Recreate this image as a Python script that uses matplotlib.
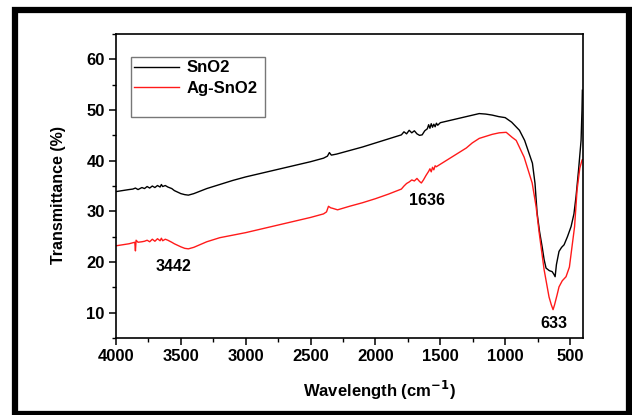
import matplotlib
matplotlib.use('Agg')
import matplotlib.pyplot as plt
from matplotlib.patches import Rectangle
from matplotlib.ticker import MultipleLocator

# Data (bilangan gelombang, transmitansi %)
wn_sno2 = [4000, 3950, 3900, 3870, 3850, 3830, 3800, 3780, 3760, 3740, 3720, 3700,
           3680, 3660, 3650, 3640, 3620, 3600, 3570, 3550, 3500, 3470, 3442, 3400,
           3300, 3200, 3100, 3000, 2900, 2800, 2700, 2600, 2500, 2400, 2370, 2355,
           2340, 2300, 2200, 2100, 2000, 1900, 1800, 1780, 1760, 1740, 1720, 1700,
           1680, 1660, 1640, 1620, 1600, 1590, 1580, 1570, 1560, 1550, 1540, 1530,
           1520, 1500, 1400, 1300, 1200, 1150, 1100, 1050, 1000, 950, 890, 850,
           790, 770, 754, 735, 715, 700, 685, 660, 638, 625, 615, 605, 585, 565,
           546, 520, 492, 470, 454, 435, 415, 408, 405]
t_sno2 = [33.9, 34.1, 34.3, 34.4, 34.6, 34.3, 34.7, 34.5, 34.9, 34.6, 35.0, 34.7,
          35.1, 34.8, 35.3, 34.9, 35.1, 34.8, 34.5, 34.1, 33.5, 33.3, 33.2, 33.5,
          34.5, 35.3, 36.1, 36.8, 37.4, 38.0, 38.6, 39.2, 39.8, 40.5, 40.9, 41.6,
          41.1, 41.3, 42.0, 42.7, 43.5, 44.3, 45.1, 45.7, 45.3, 46.0, 45.5, 45.9,
          45.3, 45.0, 45.1, 45.9, 46.3, 47.1, 46.4, 47.3, 46.6, 47.2, 46.7, 47.4,
          47.0, 47.5, 48.1, 48.7, 49.3, 49.2, 49.0, 48.7, 48.5, 47.6, 46.0, 44.0,
          39.5, 35.5, 29.7, 26.0, 23.0, 20.5, 18.8, 18.3, 18.1, 17.6, 17.1, 19.5,
          22.1, 22.9, 23.4, 25.0, 27.0, 29.5, 32.9, 38.0, 44.0, 50.0, 53.9]

wn_ag = [4000, 3950, 3900, 3870, 3855, 3850, 3845, 3830, 3800, 3780, 3760, 3740,
         3720, 3700, 3680, 3660, 3650, 3640, 3620, 3600, 3570, 3550, 3500, 3470,
         3442, 3400, 3300, 3200, 3100, 3000, 2900, 2800, 2700, 2600, 2500, 2400,
         2377, 2362, 2345, 2330, 2292, 2200, 2100, 2000, 1900, 1800, 1780, 1760,
         1740, 1720, 1700, 1680, 1660, 1646, 1630, 1610, 1590, 1580, 1570, 1560,
         1550, 1540, 1531, 1500, 1400, 1300, 1254, 1200, 1100, 1046, 992, 946,
         915, 854, 792, 762, 738, 700, 662, 645, 631, 620, 600, 585, 560, 531,
         505, 485, 465, 446, 425, 408, 405]
t_ag = [23.2, 23.4, 23.6, 23.8, 23.9, 22.2, 24.3, 23.9, 24.0, 24.1, 24.3, 24.0,
        24.5, 24.1, 24.6, 24.2, 24.7, 24.2, 24.5, 24.3, 23.9, 23.6, 23.0, 22.7,
        22.6, 22.9, 24.0, 24.8, 25.3, 25.8, 26.4, 27.0, 27.6, 28.2, 28.8, 29.5,
        29.9, 31.0, 30.7, 30.6, 30.3, 31.0, 31.7, 32.5, 33.4, 34.4, 35.0, 35.5,
        35.8, 36.2, 36.0, 36.5, 35.9, 35.6, 36.2, 37.1, 37.9, 38.4, 37.8, 38.7,
        38.2, 39.0, 38.8, 39.3, 40.9, 42.5, 43.5, 44.4, 45.2, 45.5, 45.6, 44.6,
        44.0, 40.7, 35.6, 31.0, 25.8, 18.5, 13.1, 11.6, 10.6, 11.5, 13.5, 15.1,
        16.3, 17.1, 19.0, 23.0, 27.0, 34.2, 38.5, 40.1, 40.2]

yticks = [10, 20, 30, 40, 50, 60]
xticks = [4000, 3500, 3000, 2500, 2000, 1500, 1000, 500]

# Label puncak: (teks, posisi x, posisi y)
puncak = [('3442', 3560, 19.2), ('1636', 1600, 32.2), ('633', 625, 7.9)]

plt.rcParams['font.family'] = ['Liberation Sans', 'DejaVu Sans']
plt.rcParams['font.weight'] = 'bold'

fig = plt.figure(figsize=(6.32, 4.15), dpi=100)
ax = fig.add_axes([0.1835, 0.1855, 0.739, 0.7325])

ax.plot(wn_sno2, t_sno2, color='black', lw=1.0, label='SnO2')
ax.plot(wn_ag, t_ag, color='#ff1a1a', lw=1.0, label='Ag-SnO2')

ax.set_xlim(4000, 400)
ax.set_ylim(5, 65)
ax.set_xticks(xticks)
ax.set_yticks(yticks)
ax.xaxis.set_minor_locator(MultipleLocator(250))
ax.yaxis.set_minor_locator(MultipleLocator(5))
ax.tick_params(which='major', direction='out', length=5, width=1.1, labelsize=12, pad=3)
ax.tick_params(which='minor', direction='out', length=3, width=1.0)
for lbl in ax.get_xticklabels() + ax.get_yticklabels():
    lbl.set_fontweight('bold')
for sp in ax.spines.values():
    sp.set_linewidth(1.2)

for teks, xx, yy in puncak:
    ax.text(xx, yy, teks, ha='center', va='center', fontsize=11.5, fontweight='bold')

ax.set_ylabel('Transmittance (%)', fontsize=11.5, fontweight='bold')
ax.yaxis.set_label_coords(-0.107, 0.47)
fig.text(0.601, 0.06, 'Wavelength (cm$^{\\mathbf{-1}}$)', ha='center', va='center',
         fontsize=12, fontweight='bold')

# Kotak legenda lebih tinggi dari isinya, jadi digambar terpisah
ax.add_patch(Rectangle((0.032, 0.727), 0.287, 0.197, transform=ax.transAxes,
                       fill=False, edgecolor='#777777', linewidth=1.0, zorder=5))
leg = ax.legend(loc='upper left', bbox_to_anchor=(0.025, 0.935), fontsize=12,
                frameon=False, handlelength=2.7, borderpad=0.4,
                labelspacing=0.32, handletextpad=0.45, borderaxespad=0)
for t in leg.get_texts():
    t.set_fontweight('bold')

# Bingkai hitam tebal di sekeliling gambar
fig.patches.append(Rectangle((0.0237, 0.0024), 0.9723, 0.9736, transform=fig.transFigure,
                             fill=False, edgecolor='black', linewidth=4.5, zorder=10))

fig.savefig('out.png', dpi=100)
